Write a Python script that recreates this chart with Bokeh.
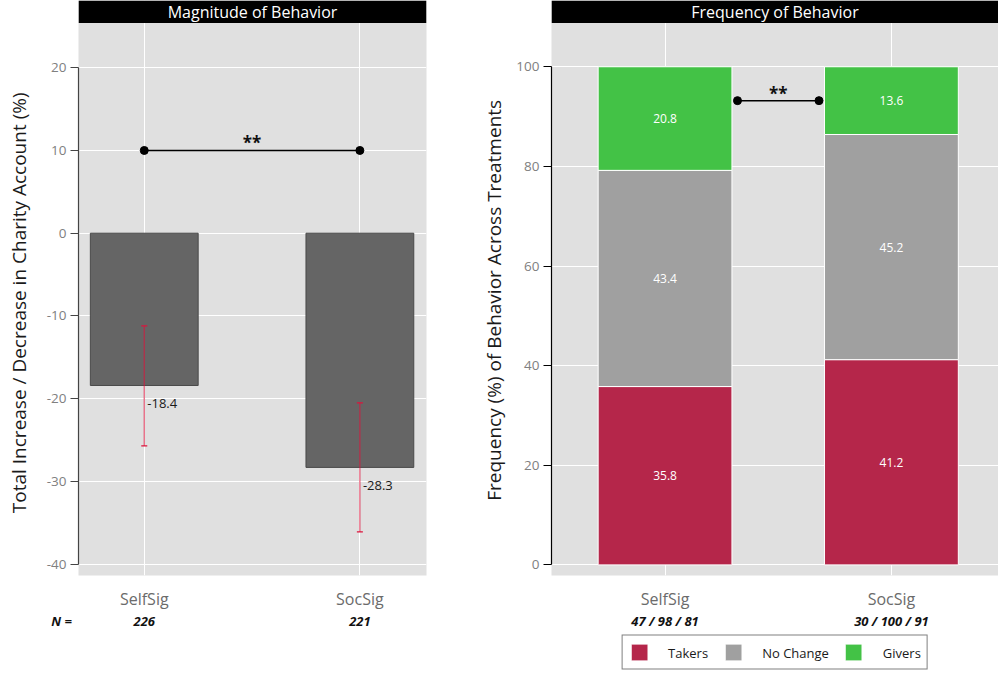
from bokeh.plotting import figure
from bokeh.layouts import row, column
from bokeh.models import (ColumnDataSource, FixedTicker, LinearAxis, Whisker, TeeHead,
                          BoxAnnotation, Label, Legend, LegendItem, Range1d, Spacer)
from bokeh.core.properties import value
from bokeh.embed import file_html
from bokeh.resources import INLINE

FONT = "Open Sans"
NBSP = "\u00a0"

# ---------------- data ----------------
categories = ["SelfSig", "SocSig"]

# Magnitude of Behavior
mag_mean = [-18.4, -28.3]
mag_ci_low = [-25.7, -36.1]
mag_ci_high = [-11.2, -20.5]
mag_n = [226, 221]
mag_n_prefix = "N ="
mag_sig_label = "**"
mag_sig_y = 10
mag_yticks = [-40, -30, -20, -10, 0, 10, 20]

# Frequency of Behavior
freq_groups = ["Takers", "No Change", "Givers"]
freq_takers = [35.8, 41.2]
freq_nochange = [43.4, 45.2]
freq_givers = [20.8, 13.6]
freq_n_a = [47, 30]
freq_n_b = [98, 100]
freq_n_c = [81, 91]
freq_sig_label = "**"
freq_sig_y = 93.2
freq_sig_x = [0.32, 0.68]
freq_yticks = [0, 20, 40, 60, 80, 100]
freq_colors = ["#B5264A", "#A0A0A0", "#43C246"]

# ---------------- layout constants ----------------
W1, W2 = 478, 520
H = 632          # height of each chart
LEG_H = 40       # legend strip under the right chart
BOTTOM = 53
PANEL_BG = "#E0E0E0"
x_idx = list(range(len(categories)))


def style_common(p):
    p.background_fill_color = PANEL_BG
    p.border_fill_color = "white"
    p.outline_line_color = None
    p.xgrid.grid_line_color = "white"
    p.ygrid.grid_line_color = "white"
    p.title.visible = False


def style_yaxis(ax, ticks, label, line_color, label_standoff, pad):
    ax.ticker = FixedTicker(ticks=ticks)
    ax.major_label_overrides = {t: str(t) for t in ticks}
    ax.bounds = (min(ticks), max(ticks))
    ax.axis_line_color = line_color
    ax.axis_line_width = 1.2
    ax.major_tick_line_color = line_color
    ax.major_tick_out = 8
    ax.major_tick_in = 0
    ax.minor_tick_line_color = None
    ax.major_label_standoff = 4
    ax.major_label_text_color = "#808080"
    ax.major_label_text_font = FONT
    ax.major_label_text_font_size = "13.5px"
    ax.axis_label = label + NBSP * pad
    ax.axis_label_text_font = FONT
    ax.axis_label_text_font_size = "19px"
    ax.axis_label_text_font_style = "normal"
    ax.axis_label_text_color = "#1a1a1a"
    ax.axis_label_standoff = label_standoff


def style_xaxes(p, n_labels, extra=None):
    xax = p.xaxis[0]
    xax.ticker = FixedTicker(ticks=x_idx)
    xax.major_label_overrides = {i: c for i, c in zip(x_idx, categories)}
    xax.axis_line_color = None
    xax.major_tick_line_color = None
    xax.minor_tick_line_color = None
    xax.major_label_standoff = 6
    xax.major_label_text_color = "#6b6b6b"
    xax.major_label_text_font = FONT
    xax.major_label_text_font_size = "16px"
    p.xgrid.ticker = xax.ticker
    ticks = list(x_idx)
    overrides = {i: s for i, s in zip(x_idx, n_labels)}
    if extra is not None:
        ticks = [extra[0]] + ticks
        overrides[extra[0]] = extra[1]
    nax = LinearAxis(ticker=FixedTicker(ticks=ticks),
                     major_label_overrides=overrides,
                     axis_line_color=None, major_tick_line_color=None,
                     minor_tick_line_color=None, major_label_standoff=-7,
                     major_label_text_font=FONT, major_label_text_font_size="13px",
                     major_label_text_font_style="bold italic",
                     major_label_text_color="#111111")
    p.add_layout(nax, "below")


def add_strip(p, bottom, top, x0, x1, text):
    p.add_layout(BoxAnnotation(bottom=bottom, top=top, left=x0, right=x1,
                               fill_color="black", fill_alpha=1, line_color=None))
    p.add_layout(Label(x=(x0 + x1) / 2, y=(bottom + top) / 2, text=text,
                       text_align="center", text_baseline="middle",
                       text_color="white", text_font=FONT, text_font_size="16px"))


# ---------------- left panel ----------------
x0a, x1a = -0.305, 1.309
y0a, y1a = -41.36, 28.12
strip_a = 25.40
p1 = figure(width=W1, height=H, output_backend="svg", toolbar_location=None,
            x_range=Range1d(x0a, x1a), y_range=Range1d(y0a, y1a),
            min_border_left=78, min_border_right=52, min_border_top=0,
            min_border_bottom=BOTTOM)
style_common(p1)
style_yaxis(p1.yaxis[0], mag_yticks,
            "Total Increase / Decrease in Charity Account (%)", "#444444", 12, 6)
p1.ygrid.ticker = p1.yaxis[0].ticker
style_xaxes(p1, [str(n) for n in mag_n],
            extra=(x0a, mag_n_prefix + NBSP * 10))

src1 = ColumnDataSource(dict(x=x_idx, mean=mag_mean, lo=mag_ci_low, hi=mag_ci_high,
                             lbl=[f"{v:.1f}" for v in mag_mean]))
p1.vbar(x="x", top="mean", bottom=0, width=0.5, source=src1,
        fill_color="#656565", line_color="#4a4a4a", line_width=1)
err_col = "#DC143C"
p1.add_layout(Whisker(base="x", upper="hi", lower="lo", source=src1, level="annotation",
                      line_color=err_col, line_width=1.3, line_alpha=0.65,
                      upper_head=TeeHead(size=6, line_color=err_col, line_width=1.3),
                      lower_head=TeeHead(size=6, line_color=err_col, line_width=1.3)))
p1.text(x="x", y="mean", text="lbl", source=src1, x_offset=3, y_offset=14,
        text_align="left", text_baseline="top", text_font=value(FONT),
        text_font_size="13px", text_color="#1a1a1a")

p1.line(x=x_idx, y=[mag_sig_y] * 2, line_color="black", line_width=1.5)
p1.scatter(x=x_idx, y=[mag_sig_y] * 2, size=8, color="black")
p1.text(x=[sum(x_idx) / 2], y=[mag_sig_y], text=[mag_sig_label], y_offset=4,
        text_align="center", text_baseline="bottom", text_font=value(FONT),
        text_font_size="17px", text_font_style="bold", text_color="#111111")

add_strip(p1, strip_a, y1a, x0a, x1a, "Magnitude of Behavior")

# ---------------- right panel ----------------
x0b, x1b = -0.5016, 1.473
y0b, y1b = -2.13, 113.30
strip_b = 108.77
p2 = figure(width=W2, height=H, output_backend="svg", toolbar_location=None,
            x_range=Range1d(x0b, x1b), y_range=Range1d(y0b, y1b),
            min_border_left=73, min_border_right=0, min_border_top=0,
            min_border_bottom=BOTTOM)
style_common(p2)
style_yaxis(p2.yaxis[0], freq_yticks,
            "Frequency (%) of Behavior Across Treatments", "#000000", 6, 5)
p2.ygrid.ticker = p2.yaxis[0].ticker
style_xaxes(p2, [f"{a} / {b} / {c}" for a, b, c in zip(freq_n_a, freq_n_b, freq_n_c)])

series = [freq_takers, freq_nochange, freq_givers]
keys = ["s0", "s1", "s2"]
src2 = ColumnDataSource(dict(x=x_idx, **{k: v for k, v in zip(keys, series)}))
p2.vbar_stack(keys, x="x", width=0.591, source=src2,
              fill_color=freq_colors, line_color="white", line_width=1)

lx, ly, lt = [], [], []
cum = [0.0] * len(categories)
for vals in series:
    for i, v in enumerate(vals):
        lx.append(x_idx[i])
        ly.append(cum[i] + v / 2)
        lt.append(f"{v:.1f}")
        cum[i] += v
p2.text(x=lx, y=ly, text=lt, text_align="center", text_baseline="middle",
        text_font=value(FONT), text_font_size="12px", text_color="white")

p2.line(x=freq_sig_x, y=[freq_sig_y] * 2, line_color="black", line_width=1.5)
p2.scatter(x=freq_sig_x, y=[freq_sig_y] * 2, size=8, color="black")
p2.text(x=[sum(freq_sig_x) / 2], y=[freq_sig_y], text=[freq_sig_label], y_offset=4,
        text_align="center", text_baseline="bottom", text_font=value(FONT),
        text_font_size="17px", text_font_style="bold", text_color="#111111")

add_strip(p2, strip_b, y1b, x0b, x1b, "Frequency of Behavior")

# ---------------- legend strip ----------------
pleg = figure(width=W2, height=LEG_H, output_backend="svg", toolbar_location=None,
              x_axis_type=None, y_axis_type=None,
              min_border_left=73, min_border_right=0, min_border_top=0,
              min_border_bottom=0)
pleg.title.visible = False
pleg.outline_line_color = None
pleg.background_fill_color = "white"
leg_rs = pleg.vbar_stack(keys, x="x", width=0.591, source=src2,
                         fill_color=freq_colors, line_color="white", line_width=1,
                         visible=False)
legend = Legend(items=[LegendItem(label=g, renderers=[r]) for g, r in zip(freq_groups, leg_rs)],
                orientation="horizontal", location="center",
                border_line_color="black", border_line_width=1,
                background_fill_color="white", background_fill_alpha=1,
                inactive_fill_alpha=0,
                glyph_width=21, glyph_height=21, label_height=17,
                label_standoff=19, spacing=14, padding=6, margin=0,
                label_text_font=FONT, label_text_font_size="13px",
                label_text_color="#1a1a1a")
pleg.add_layout(legend)

layout = row(column(p1, Spacer(width=W1, height=LEG_H)), column(p2, pleg))
open("out.html", "w").write(file_html(layout, INLINE))
